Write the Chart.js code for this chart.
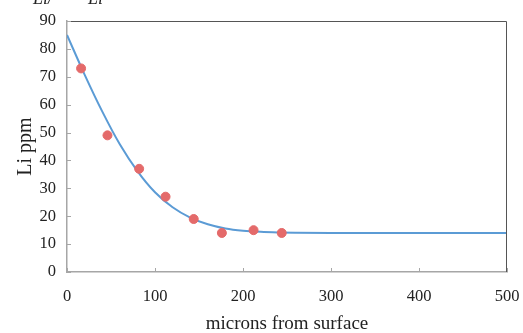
<!DOCTYPE html>
<html lang="en">
<head>
  <meta charset="UTF-8">
  <title>Li ppm vs depth</title>
  <script src="https://cdn.jsdelivr.net/npm/chart.js"></script>
  <style>
    html, body { margin: 0; padding: 0; background: #fff; }
    #wrap { width: 523px; height: 333px; }
  </style>
</head>
<body>
  <div id="wrap"><canvas id="liChart" width="523" height="333"></canvas></div>

  <script>
    // measured points
    const depth = [16, 46, 82, 112, 144, 176, 212, 244];
    const liPpm = [73, 49, 37, 27, 19, 14, 15, 14];

    // fitted curve
    const fitDepth = [0, 20, 40, 60, 80, 100, 120, 140, 160, 180, 200, 220, 240, 260, 300, 400, 500];
    const fitPpm = [85, 70.8, 57.6, 45.8, 36.2, 28.6, 23.2, 19.5, 17.1, 15.6, 14.8, 14.4, 14.2, 14.1, 14, 14, 14];

    const xTicks = [0, 100, 200, 300, 400, 500];
    const yTicks = [0, 10, 20, 30, 40, 50, 60, 70, 80, 90];

    const serif = '"Liberation Serif", "Times New Roman", serif';

    // top/right frame, inward tick marks, clipped header text
    const framePlugin = {
      id: 'frame',
      afterDraw(c) {
        const ctx = c.ctx;
        const a = c.chartArea;
        const xs = c.scales.x, ys = c.scales.y;
        ctx.save();
        ctx.strokeStyle = '#555';
        ctx.lineWidth = 1;
        ctx.beginPath();
        ctx.moveTo(a.left, a.top + 0.5);
        ctx.lineTo(a.right - 0.5, a.top + 0.5);
        ctx.lineTo(a.right - 0.5, a.bottom);
        ctx.stroke();

        ctx.strokeStyle = '#a6a6a6';
        ctx.beginPath();
        xTicks.forEach(v => {
          const px = Math.round(xs.getPixelForValue(v)) + 0.5;
          ctx.moveTo(px, a.bottom);
          ctx.lineTo(px, a.bottom - 4);
        });
        yTicks.forEach(v => {
          const py = Math.round(ys.getPixelForValue(v)) + 0.5;
          ctx.moveTo(a.left, py);
          ctx.lineTo(a.left + 4, py);
        });
        ctx.stroke();

        ctx.fillStyle = '#222';
        ctx.font = 'italic 18px ' + serif;
        ctx.textBaseline = 'alphabetic';
        ctx.fillText('Li/', 33, 4);
        ctx.fillText('Li', 88, 4);
        ctx.restore();
      }
    };

    const ctx = document.getElementById('liChart').getContext('2d');
    new Chart(ctx, {
      type: 'scatter',
      data: {
        datasets: [
          {
            label: 'measured',
            data: depth.map((d, i) => ({ x: d, y: liPpm[i] })),
            backgroundColor: '#e46a6a',
            borderColor: '#e46a6a',
            pointRadius: 4.5,
            showLine: false,
            order: 1
          },
          {
            label: 'fit',
            data: fitDepth.map((d, i) => ({ x: d, y: fitPpm[i] })),
            borderColor: '#5b9bd5',
            borderWidth: 2,
            pointRadius: 0,
            showLine: true,
            cubicInterpolationMode: 'monotone',
            order: 2
          }
        ]
      },
      options: {
        responsive: false,
        animation: false,
        layout: { padding: { top: 21, right: 16, left: 0, bottom: 0 } },
        plugins: {
          legend: { display: false },
          tooltip: { enabled: false }
        },
        scales: {
          x: {
            type: 'linear',
            min: 0,
            max: 500,
            afterBuildTicks: s => { s.ticks = xTicks.map(v => ({ value: v })); },
            afterFit: s => { s.height = 61; s.paddingLeft = 0; s.paddingRight = 0; },
            grid: { drawOnChartArea: false, drawTicks: false },
            border: { color: '#a6a6a6', width: 1.5 },
            ticks: { color: '#222', padding: 15, font: { family: serif, size: 16.5 } },
            title: {
              display: true,
              text: 'microns from surface',
              color: '#222',
              padding: { top: 0, bottom: -2 },
              font: { family: serif, size: 19 }
            }
          },
          y: {
            min: 0,
            max: 90,
            afterBuildTicks: s => { s.ticks = yTicks.map(v => ({ value: v })); },
            afterFit: s => { s.width = 67; s.paddingTop = 0; s.paddingBottom = 0; },
            grid: { drawOnChartArea: false, drawTicks: false },
            border: { color: '#a6a6a6', width: 1.5 },
            ticks: { color: '#222', padding: 11, font: { family: serif, size: 16.5 } },
            title: {
              display: true,
              text: 'Li ppm',
              color: '#222',
              padding: { top: 14, bottom: 0 },
              font: { family: serif, size: 20 }
            }
          }
        }
      },
      plugins: [framePlugin]
    });
  </script>
</body>
</html>
